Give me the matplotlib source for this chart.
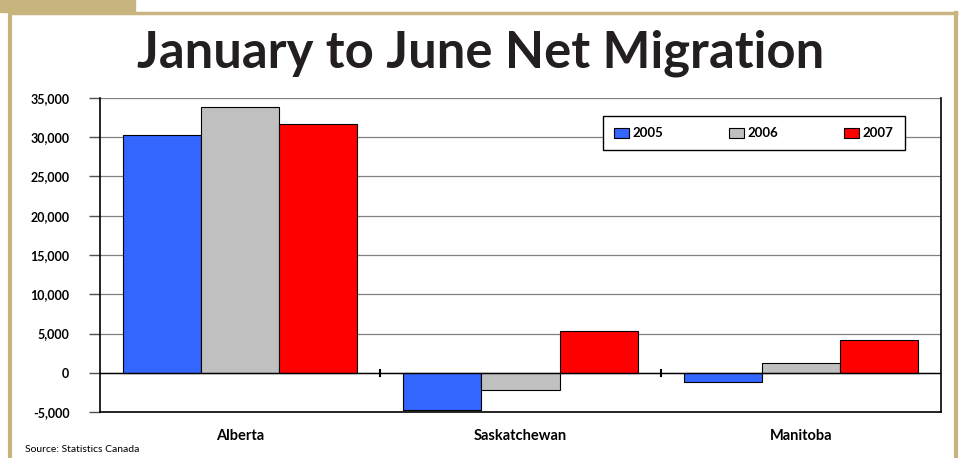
import matplotlib

matplotlib.use("Agg")
import matplotlib.pyplot as plt
import numpy as np
from matplotlib.patches import Rectangle

provinces = ["Alberta", "Saskatchewan", "Manitoba"]
years = ["2005", "2006", "2007"]
net_2005 = [30300, -4700, -1150]
net_2006 = [33850, -2150, 1300]
net_2007 = [31700, 5350, 4200]
y_ticks = [-5000, 0, 5000, 10000, 15000, 20000, 25000, 30000, 35000]

colors = ["#3366ff", "#c0c0c0", "#ff0000"]
frame_color = "#c8b47e"

fig = plt.figure(figsize=(9.61, 4.58), dpi=100)
plt.rcParams["font.family"] = ["Lato", "DejaVu Sans"]

# decorative frame
fig.patches.append(Rectangle((0, 1 - 12 / 458), 135 / 961, 12 / 458, transform=fig.transFigure,
                             color=frame_color, zorder=0))
fig.add_artist(plt.Line2D([10 / 961, 10 / 961], [0, 1 - 12 / 458], transform=fig.transFigure,
                          color=frame_color, lw=3))
fig.add_artist(plt.Line2D([10 / 961, 956 / 961], [1 - 13 / 458, 1 - 13 / 458], transform=fig.transFigure,
                          color=frame_color, lw=2.5))
fig.add_artist(plt.Line2D([956 / 961, 956 / 961], [0, 1 - 13 / 458], transform=fig.transFigure,
                          color=frame_color, lw=3))

fig.text(481 / 961, 1 - 53 / 458, "January to June Net Migration", ha="center", va="center",
         fontsize=36.5, fontweight="bold", color="#231f20")

ax = fig.add_axes([100 / 961, 1 - 412 / 458, 841 / 961, 314 / 458])
x = np.arange(len(provinces))
width = 0.279
for i, (vals, yr) in enumerate(zip([net_2005, net_2006, net_2007], years)):
    ax.bar(x + (i - 1) * width, vals, width, color=colors[i], edgecolor="black", linewidth=0.8,
           label=yr, zorder=3)

ax.set_xlim(-0.5, 2.5)
ax.set_ylim(-5000, 35000)
ax.set_yticks(y_ticks)
ax.set_yticklabels([f"{v:,}" for v in y_ticks], fontsize=9, fontweight="bold")
ax.grid(axis="y", color="#808080", linewidth=0.9, zorder=0)
ax.axhline(0, color="black", linewidth=1, zorder=4)
ax.set_xticks(x)
ax.set_xticklabels(provinces, fontsize=10.5, fontweight="bold")
ax.tick_params(axis="x", length=0, pad=12)
ax.tick_params(axis="y", length=8, width=1, color="#505050", pad=14)
for b in [0.5, 1.5]:
    ax.plot([b, b], [300, -400], color="black", lw=1.5, zorder=4, clip_on=False)
ax.spines["top"].set_visible(False)
for s in ["left", "right", "bottom"]:
    ax.spines[s].set_color("black")
    ax.spines[s].set_linewidth(1.2)

leg = ax.legend(loc="upper right", bbox_to_anchor=(805 / 841, 1 - 18 / 314), ncol=3, fancybox=False,
                edgecolor="black", framealpha=1, prop={"weight": "bold", "size": 9.5},
                handlelength=1.1, handleheight=0.8, columnspacing=5.0, borderpad=0.85,
                handletextpad=0.3, borderaxespad=0)
leg.get_frame().set_linewidth(1)
leg.set_zorder(5)

fig.text(25 / 961, 1 - 450 / 458, "Source: Statistics Canada", fontsize=7.5, va="center", ha="left")

fig.savefig("out.png", dpi=100)
